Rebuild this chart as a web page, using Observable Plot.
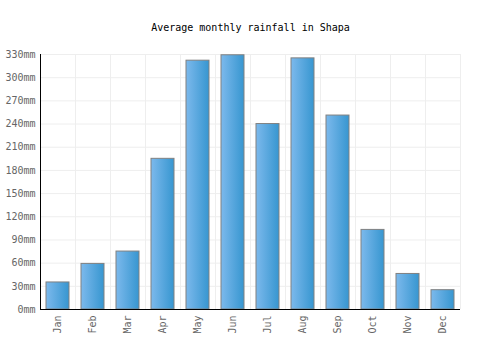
<!DOCTYPE html>
<html><head><meta charset="utf-8">
<script src="https://cdn.jsdelivr.net/npm/d3@7"></script>
<script src="https://cdn.jsdelivr.net/npm/@observablehq/plot@0.6"></script>
<style>body{margin:0;background:#fff}</style>
</head><body><div id="chart"></div>
<script>
const title = "Average monthly rainfall in Shapa";
const months = ["Jan","Feb","Mar","Apr","May","Jun","Jul","Aug","Sep","Oct","Nov","Dec"];
const rainfall = [35, 59, 75, 195, 322, 329, 240, 325, 251, 103, 46, 25];
const yTicks = [0,30,60,90,120,150,180,210,240,270,300,330];

const data = months.map((m,i)=>({month:m, value:rainfall[i]}));
const font = "'DejaVu Sans Mono', monospace";

const chart = Plot.plot({
  width: 500, height: 350,
  marginTop: 54, marginBottom: 41, marginLeft: 40, marginRight: 40,
  style: {fontFamily: font, fontSize: "10px", background: "#fff"},
  x: {domain: months, paddingInner: 0.33, paddingOuter: 0.165, label: null},
  y: {domain: [0,330], label: null},
  marks: [
    Plot.gridY(yTicks, {stroke: "#eee", strokeOpacity: 1}),
    Plot.ruleX(months, {x: d=>d, dx: 17.5, stroke: "#eee"}),
    Plot.barY(data, {x: "month", y: "value", fill: "url(#barGrad)", stroke: "#808080", strokeWidth: 1}),
    Plot.axisY(yTicks, {tickSize: 0, tickPadding: 5, tickFormat: d=>d+"mm", fill: "#666", fontSize: 10}),
    Plot.axisX({tickSize: 0, tickPadding: 6, tickRotate: -90, fill: "#666", fontSize: 10}),
    Plot.frame({anchor: "left", stroke: "#000"}),
    Plot.ruleY([0], {stroke: "#000"}),
    Plot.text([title], {frameAnchor: "top", dy: -27, fill: "#000", fontSize: 10, fontFamily: font, lineAnchor: "middle"})
  ]
});

const svg = d3.select(chart);
const defs = svg.insert("defs", ":first-child");
const g = defs.append("linearGradient").attr("id","barGrad").attr("x1","0%").attr("x2","100%").attr("y1","0%").attr("y2","0%");
g.append("stop").attr("offset","0%").attr("stop-color","#7cb9ec");
g.append("stop").attr("offset","100%").attr("stop-color","#3796d0");
document.getElementById("chart").appendChild(chart);
</script>
</body></html>
